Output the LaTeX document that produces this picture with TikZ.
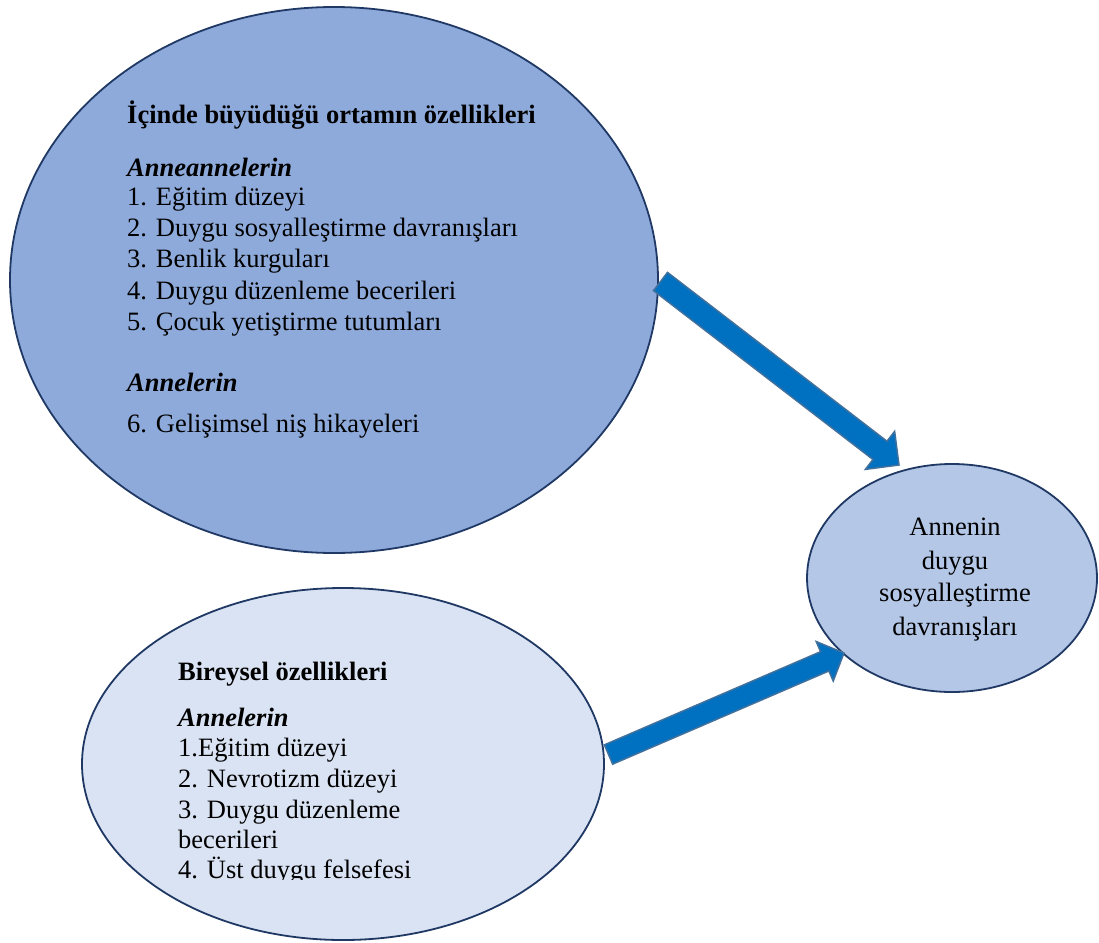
\documentclass[tikz,border=0pt]{standalone}
\usepackage{fontspec}
\setmainfont{Liberation Serif}
\usetikzlibrary{shapes.geometric,calc}
\definecolor{edgenavy}{HTML}{1F3864}
\definecolor{bigfill}{HTML}{8EAADB}
\definecolor{rightfill}{HTML}{B4C7E7}
\definecolor{lowfill}{HTML}{DAE3F3}
\definecolor{arrowfill}{HTML}{0070C0}
\definecolor{arrowedge}{HTML}{41719C}
\tikzset{
  blob/.style={ellipse, draw=edgenavy, line width=1.8pt, inner sep=0pt},
  txt/.style={anchor=base west, inner sep=0pt, font=\fontsize{26.5}{31}\selectfont},
  ctxt/.style={anchor=base, inner sep=0pt, font=\fontsize{26.5}{31}\selectfont},
  blockarrow/.style={fill=arrowfill, draw=arrowedge, line width=1.5pt, line join=miter}
}
\newcommand{\blockarrow}[5]{% start, tip, shaft half width, head half width, head length
  \coordinate (hb) at ($(#2)!#5!(#1)$);
  \draw[blockarrow] ($(#1)!#3!90:(#2)$) -- ($(hb)!#3!90:(#2)$) -- ($(hb)!#4!90:(#2)$) -- (#2)
     -- ($(hb)!#4!-90:(#2)$) -- ($(hb)!#3!-90:(#2)$) -- ($(#1)!#3!-90:(#2)$) -- cycle;
}
\begin{document}
\begin{tikzpicture}[x=1pt,y=-1pt]
\useasboundingbox (0,0) rectangle (1099,942);
% ellipses
\node[blob, fill=bigfill, minimum width=648pt, minimum height=546pt] (big) at (334,280) {};
\node[blob, fill=lowfill, minimum width=522pt, minimum height=352pt] (low) at (343,764) {};
\node[blob, fill=rightfill, minimum width=290pt, minimum height=228pt] (res) at (952,578) {};
% arrows
\coordinate (a1s) at (660.5,281.5);
\coordinate (a1t) at (899,465);
\coordinate (a2s) at (608.5,754.5);
\coordinate (a2t) at (844,653);
\blockarrow{a1s}{a1t}{11.5pt}{24pt}{24pt}
\blockarrow{a2s}{a2t}{10.5pt}{21.5pt}{21pt}
% big ellipse text
\node[txt, font=\fontsize{26.5}{31}\selectfont\bfseries] (t1) at (127,123) {İçinde büyüdüğü ortamın özellikleri};
\node[txt, font=\fontsize{26.5}{31}\selectfont\bfseries\itshape] (t2) at (127,176) {Anneannelerin};
\node[txt] (t3) at (127,205) {1. Eğitim düzeyi};
\node[txt] (t4) at (127,236) {2. Duygu sosyalleştirme davranışları};
\node[txt] (t5) at (127,267) {3. Benlik kurguları};
\node[txt] (t6) at (127,299) {4. Duygu düzenleme becerileri};
\node[txt] (t7) at (127,330) {5. Çocuk yetiştirme tutumları};
\node[txt, font=\fontsize{26.5}{31}\selectfont\bfseries\itshape] (t8) at (127,391) {Annelerin};
\node[txt] (t9) at (127,432) {6. Gelişimsel niş hikayeleri};
% right ellipse text
\node[ctxt] (r1) at (955,535) {Annenin};
\node[ctxt] (r2) at (955,569) {duygu};
\node[ctxt] (r3) at (955,601) {sosyalleştirme};
\node[ctxt] (r4) at (955,635) {davranışları};
% lower ellipse text
\node[txt, font=\fontsize{26.5}{31}\selectfont\bfseries] (b1) at (178,680) {Bireysel özellikleri};
\node[txt, font=\fontsize{26.5}{31}\selectfont\bfseries\itshape] (b2) at (178,726) {Annelerin};
\node[txt] (b3) at (178,756) {1.Eğitim düzeyi};
\node[txt] (b4) at (178,787) {2. Nevrotizm düzeyi};
\node[txt] (b5) at (178,818) {3. Duygu düzenleme};
\node[txt] (b6) at (178,848) {becerileri};
\begin{scope}
\clip (150,850) rectangle (500,879);
\node[txt] (b7) at (178,878) {4. Üst duygu felsefesi};
\end{scope}
\end{tikzpicture}
\end{document}
